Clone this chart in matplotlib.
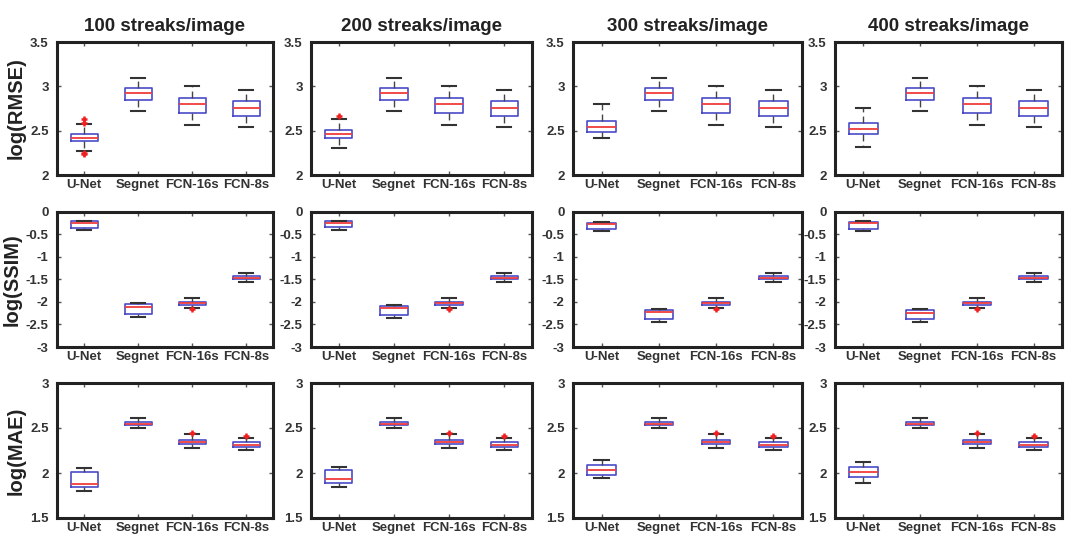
import matplotlib
matplotlib.use("Agg")
import matplotlib.pyplot as plt

plt.rcParams['font.family'] = ['Liberation Sans', 'DejaVu Sans']

titles = ["100 streaks/image", "200 streaks/image", "300 streaks/image", "400 streaks/image"]
models = ["U-Net", "Segnet", "FCN-16s", "FCN-8s"]
ylabels = ["log(RMSE)", "log(SSIM)", "log(MAE)"]
ylims = [(2, 3.5), (-3, 0), (1.5, 3)]
yticks = [[2, 2.5, 3, 3.5], [-3, -2.5, -2, -1.5, -1, -0.5, 0], [1.5, 2, 2.5, 3]]
yticklabels = [["2", "2.5", "3", "3.5"],
               ["-3", "-2.5", "-2", "-1.5", "-1", "-0.5", "0"],
               ["1.5", "2", "2.5", "3"]]

# each box: (whislo, q1, median, q3, whishi)
rmse_unet = [(2.27, 2.38, 2.42, 2.46, 2.57), (2.30, 2.42, 2.46, 2.51, 2.63),
             (2.42, 2.49, 2.54, 2.61, 2.80), (2.32, 2.46, 2.52, 2.59, 2.76)]
rmse_unet_fliers = [[2.24, 2.25, 2.59, 2.63], [2.66], [], []]
rmse_segnet = (2.72, 2.85, 2.92, 2.98, 3.09)
rmse_fcn16 = (2.56, 2.70, 2.80, 2.87, 3.00)
rmse_fcn8 = (2.54, 2.66, 2.76, 2.83, 2.96)

ssim_unet = [(-0.40, -0.35, -0.24, -0.21, -0.19), (-0.40, -0.34, -0.24, -0.21, -0.19),
             (-0.43, -0.37, -0.27, -0.24, -0.22), (-0.43, -0.37, -0.25, -0.23, -0.21)]
ssim_segnet = [(-2.34, -2.27, -2.11, -2.05, -2.03), (-2.36, -2.30, -2.14, -2.08, -2.06),
               (-2.44, -2.38, -2.22, -2.17, -2.15), (-2.44, -2.38, -2.24, -2.18, -2.15)]
ssim_fcn16 = (-2.13, -2.06, -2.03, -1.99, -1.92)
ssim_fcn16_fliers = [-2.15]
ssim_fcn8 = (-1.56, -1.49, -1.46, -1.43, -1.36)

mae_unet = [(1.80, 1.84, 1.88, 2.01, 2.06), (1.85, 1.89, 1.93, 2.03, 2.07),
            (1.94, 1.98, 2.03, 2.09, 2.14), (1.89, 1.96, 2.01, 2.07, 2.12)]
mae_segnet = (2.50, 2.53, 2.55, 2.57, 2.61)
mae_fcn16 = (2.28, 2.32, 2.35, 2.37, 2.43)
mae_fcn16_fliers = [2.45]
mae_fcn8 = (2.26, 2.29, 2.31, 2.34, 2.39)
mae_fcn8_fliers = [2.41]


def stat(t, fl=()):
    return dict(whislo=t[0], q1=t[1], med=t[2], q3=t[3], whishi=t[4], fliers=list(fl))


def row_stats(r, c):
    if r == 0:
        return [stat(rmse_unet[c], rmse_unet_fliers[c]), stat(rmse_segnet),
                stat(rmse_fcn16), stat(rmse_fcn8)]
    if r == 1:
        return [stat(ssim_unet[c]), stat(ssim_segnet[c]),
                stat(ssim_fcn16, ssim_fcn16_fliers), stat(ssim_fcn8)]
    return [stat(mae_unet[c]), stat(mae_segnet),
            stat(mae_fcn16, mae_fcn16_fliers), stat(mae_fcn8, mae_fcn8_fliers)]


W, H = 1066, 536
fig = plt.figure(figsize=(W / 100, H / 100), dpi=100)
fig.patch.set_facecolor('white')

col_x = [(57, 273), (311, 532), (573, 802), (835, 1062)]
row_y = [(42, 175), (212, 347), (383, 518)]

for r in range(3):
    for c in range(4):
        x0, x1 = col_x[c]
        y0, y1 = row_y[r]
        ax = fig.add_axes([x0 / W, 1 - y1 / H, (x1 - x0) / W, (y1 - y0) / H])
        ax.bxp(row_stats(r, c), positions=[1, 2, 3, 4], widths=0.5,
               showfliers=True,
               boxprops=dict(color='#4a4ac8', linewidth=1.2),
               medianprops=dict(color='#f03c3c', linewidth=1.3),
               whiskerprops=dict(color='#444444', linewidth=1.0, linestyle=(0, (5, 3))),
               capprops=dict(color='#333333', linewidth=1.5),
               flierprops=dict(marker='+', markeredgecolor='#f02020', markersize=5,
                               markeredgewidth=1.8, linestyle='none'),
               capwidths=0.25)
        ax.set_xlim(0.5, 4.5)
        ax.set_ylim(*ylims[r])
        ax.set_yticks(yticks[r])
        ax.set_yticklabels(yticklabels[r])
        ax.set_xticks([1, 2, 3, 4])
        ax.set_xticklabels(models)
        ax.tick_params(direction='in', top=True, right=True, length=3, width=1,
                       color='#555555', labelsize=9.5, labelcolor='#333333')
        ax.tick_params(axis='x', pad=3)
        ax.tick_params(axis='y', pad=6)
        for lab in ax.get_xticklabels() + ax.get_yticklabels():
            lab.set_fontweight('bold')
        for s in ax.spines.values():
            s.set_linewidth(2.2)
            s.set_color('#222222')
        if c == 0:
            ax.set_ylabel(ylabels[r], fontsize=14.5, fontweight='bold', color='#222222', labelpad=3)
        if r == 0:
            ax.set_title(titles[c], fontsize=13.5, fontweight='bold', color='#222222', pad=8)

fig.savefig('out.png', dpi=100, facecolor='white')
